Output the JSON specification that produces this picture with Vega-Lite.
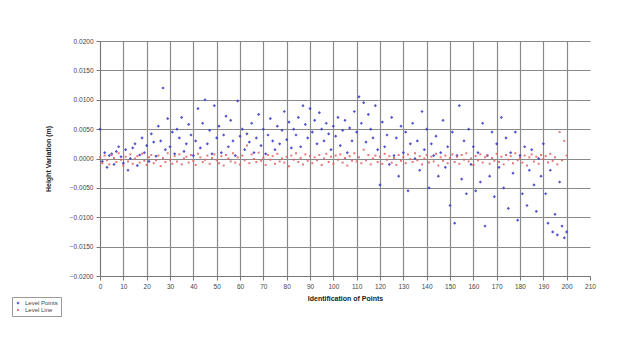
{
  "$schema": "https://vega.github.io/schema/vega-lite/v6.json",
  "width": 490,
  "height": 235,
  "autosize": {"type": "none"},
  "padding": {"left": 100, "top": 41, "right": 33, "bottom": 73},
  "background": "white",
  "config": {"view": {"stroke": null}, "font": "Liberation Sans"},
  "data": {"values": [
{"x":0,"b":0.0050,"r":0.0002},{"x":1,"b":-0.0005,"r":-0.0008},{"x":2,"b":0.0010,"r":0.0005},{"x":3,"b":-0.0015,"r":-0.0003},{"x":4,"b":0.0005,"r":-0.0010},
{"x":5,"b":0.0008,"r":0.0006},{"x":6,"b":-0.0010,"r":0.0001},{"x":7,"b":0.0012,"r":-0.0006},{"x":8,"b":0.0020,"r":0.0009},{"x":9,"b":0.0003,"r":-0.0002},
{"x":10,"b":-0.0008,"r":-0.0012},{"x":11,"b":0.0015,"r":0.0003},{"x":12,"b":-0.0020,"r":-0.0005},{"x":13,"b":0.0000,"r":0.0007},{"x":14,"b":0.0018,"r":-0.0009},
{"x":15,"b":0.0025,"r":0.0000},{"x":16,"b":-0.0012,"r":0.0004},{"x":17,"b":0.0006,"r":-0.0007},{"x":18,"b":0.0035,"r":0.0008},{"x":19,"b":0.0010,"r":-0.0004},
{"x":20,"b":0.0022,"r":-0.0011},{"x":21,"b":-0.0005,"r":0.0002},{"x":22,"b":0.0042,"r":0.0006},{"x":23,"b":0.0028,"r":-0.0008},{"x":24,"b":0.0004,"r":-0.0003},
{"x":25,"b":0.0055,"r":0.0005},{"x":26,"b":0.0030,"r":-0.0013},{"x":27,"b":0.0120,"r":0.0001},{"x":28,"b":0.0015,"r":-0.0006},{"x":29,"b":0.0068,"r":0.0009},
{"x":30,"b":0.0020,"r":-0.0002},{"x":31,"b":0.0045,"r":-0.0009},{"x":32,"b":0.0008,"r":0.0004},{"x":33,"b":0.0050,"r":-0.0005},{"x":34,"b":0.0035,"r":0.0007},
{"x":35,"b":0.0070,"r":-0.0010},{"x":36,"b":0.0012,"r":0.0000},{"x":37,"b":0.0025,"r":0.0003},{"x":38,"b":0.0058,"r":-0.0007},{"x":39,"b":0.0040,"r":0.0006},
{"x":40,"b":0.0005,"r":-0.0004},{"x":41,"b":0.0030,"r":-0.0011},{"x":42,"b":0.0085,"r":0.0008},{"x":43,"b":0.0018,"r":0.0002},{"x":44,"b":0.0060,"r":-0.0006},
{"x":45,"b":0.0100,"r":-0.0002},{"x":46,"b":0.0025,"r":0.0005},{"x":47,"b":0.0048,"r":-0.0009},{"x":48,"b":0.0008,"r":0.0001},{"x":49,"b":0.0090,"r":0.0007},
{"x":50,"b":0.0035,"r":-0.0003},{"x":51,"b":0.0055,"r":-0.0008},{"x":52,"b":0.0010,"r":0.0004},{"x":53,"b":0.0040,"r":-0.0012},{"x":54,"b":0.0072,"r":0.0006},
{"x":55,"b":0.0020,"r":0.0000},{"x":56,"b":0.0065,"r":-0.0005},{"x":57,"b":0.0030,"r":0.0009},{"x":58,"b":0.0005,"r":-0.0007},{"x":59,"b":0.0098,"r":0.0002},
{"x":60,"b":0.0038,"r":-0.0010},{"x":61,"b":0.0050,"r":0.0005},{"x":62,"b":0.0015,"r":-0.0003},{"x":63,"b":0.0042,"r":0.0022},{"x":64,"b":0.0028,"r":-0.0008},
{"x":65,"b":0.0060,"r":0.0007},{"x":66,"b":0.0010,"r":-0.0001},{"x":67,"b":0.0035,"r":-0.0006},{"x":68,"b":0.0075,"r":0.0010},{"x":69,"b":0.0022,"r":-0.0004},
{"x":70,"b":0.0050,"r":0.0001},{"x":71,"b":0.0008,"r":-0.0011},{"x":72,"b":0.0040,"r":0.0006},{"x":73,"b":0.0068,"r":-0.0002},{"x":74,"b":0.0030,"r":0.0004},
{"x":75,"b":0.0015,"r":-0.0009},{"x":76,"b":0.0055,"r":0.0008},{"x":77,"b":0.0025,"r":-0.0005},{"x":78,"b":0.0048,"r":0.0000},{"x":79,"b":0.0080,"r":-0.0007},
{"x":80,"b":0.0032,"r":0.0003},{"x":81,"b":0.0062,"r":-0.0013},{"x":82,"b":0.0018,"r":0.0005},{"x":83,"b":0.0050,"r":-0.0002},{"x":84,"b":0.0040,"r":0.0009},
{"x":85,"b":0.0070,"r":-0.0006},{"x":86,"b":0.0020,"r":0.0001},{"x":87,"b":0.0090,"r":-0.0010},{"x":88,"b":0.0058,"r":0.0007},{"x":89,"b":0.0035,"r":-0.0004},
{"x":90,"b":0.0085,"r":0.0004},{"x":91,"b":0.0045,"r":-0.0008},{"x":92,"b":0.0065,"r":0.0002},{"x":93,"b":0.0025,"r":-0.0003},{"x":94,"b":0.0078,"r":0.0006},
{"x":95,"b":0.0050,"r":-0.0011},{"x":96,"b":0.0030,"r":0.0000},{"x":97,"b":0.0060,"r":0.0008},{"x":98,"b":0.0042,"r":-0.0006},{"x":99,"b":0.0015,"r":0.0003},
{"x":100,"b":0.0055,"r":-0.0009},{"x":101,"b":0.0038,"r":0.0005},{"x":102,"b":0.0070,"r":-0.0002},{"x":103,"b":0.0022,"r":0.0007},{"x":104,"b":0.0048,"r":-0.0007},
{"x":105,"b":0.0065,"r":0.0001},{"x":106,"b":0.0010,"r":-0.0012},{"x":107,"b":0.0052,"r":0.0004},{"x":108,"b":0.0030,"r":-0.0004},{"x":109,"b":0.0080,"r":0.0009},
{"x":110,"b":0.0045,"r":-0.0005},{"x":111,"b":0.0105,"r":0.0002},{"x":112,"b":0.0060,"r":-0.0008},{"x":113,"b":0.0095,"r":0.0015},{"x":114,"b":0.0028,"r":-0.0003},
{"x":115,"b":0.0075,"r":0.0006},{"x":116,"b":0.0050,"r":-0.0010},{"x":117,"b":0.0035,"r":0.0000},{"x":118,"b":0.0090,"r":0.0005},{"x":119,"b":0.0015,"r":-0.0006},
{"x":120,"b":-0.0045,"r":0.0003},{"x":121,"b":0.0062,"r":-0.0009},{"x":122,"b":0.0020,"r":0.0008},{"x":123,"b":0.0040,"r":-0.0002},{"x":124,"b":-0.0010,"r":0.0004},
{"x":125,"b":0.0070,"r":-0.0007},{"x":126,"b":0.0005,"r":0.0001},{"x":127,"b":0.0035,"r":-0.0011},{"x":128,"b":-0.0030,"r":0.0006},{"x":129,"b":0.0055,"r":-0.0004},
{"x":130,"b":0.0010,"r":0.0002},{"x":131,"b":0.0045,"r":-0.0008},{"x":132,"b":-0.0055,"r":0.0007},{"x":133,"b":0.0025,"r":-0.0001},{"x":134,"b":0.0060,"r":-0.0006},
{"x":135,"b":0.0000,"r":0.0009},{"x":136,"b":0.0030,"r":-0.0003},{"x":137,"b":-0.0020,"r":0.0004},{"x":138,"b":0.0080,"r":-0.0010},{"x":139,"b":0.0015,"r":0.0000},
{"x":140,"b":0.0050,"r":0.0006},{"x":141,"b":-0.0050,"r":-0.0007},{"x":142,"b":0.0025,"r":0.0003},{"x":143,"b":0.0005,"r":-0.0005},{"x":144,"b":0.0038,"r":0.0008},
{"x":145,"b":-0.0030,"r":-0.0012},{"x":146,"b":0.0010,"r":0.0002},{"x":147,"b":0.0065,"r":-0.0004},{"x":148,"b":-0.0015,"r":0.0005},{"x":149,"b":0.0020,"r":-0.0008},
{"x":150,"b":-0.0080,"r":0.0001},{"x":151,"b":0.0045,"r":0.0007},{"x":152,"b":-0.0110,"r":-0.0006},{"x":153,"b":0.0005,"r":0.0003},{"x":154,"b":0.0090,"r":-0.0009},
{"x":155,"b":-0.0035,"r":0.0006},{"x":156,"b":0.0030,"r":-0.0002},{"x":157,"b":-0.0060,"r":0.0009},{"x":158,"b":0.0050,"r":-0.0005},{"x":159,"b":-0.0010,"r":0.0000},
{"x":160,"b":0.0020,"r":-0.0011},{"x":161,"b":-0.0055,"r":0.0004},{"x":162,"b":0.0010,"r":-0.0003},{"x":163,"b":-0.0040,"r":0.0007},{"x":164,"b":0.0060,"r":-0.0007},
{"x":165,"b":-0.0115,"r":0.0002},{"x":166,"b":0.0005,"r":0.0005},{"x":167,"b":-0.0030,"r":-0.0009},{"x":168,"b":0.0045,"r":0.0001},{"x":169,"b":-0.0065,"r":-0.0004},
{"x":170,"b":0.0025,"r":0.0008},{"x":171,"b":-0.0015,"r":-0.0006},{"x":172,"b":0.0070,"r":0.0003},{"x":173,"b":-0.0050,"r":-0.0010},{"x":174,"b":0.0035,"r":0.0006},
{"x":175,"b":-0.0085,"r":-0.0002},{"x":176,"b":0.0010,"r":0.0004},{"x":177,"b":-0.0025,"r":-0.0008},{"x":178,"b":0.0045,"r":0.0009},{"x":179,"b":-0.0105,"r":-0.0003},
{"x":180,"b":0.0005,"r":0.0001},{"x":181,"b":-0.0060,"r":-0.0007},{"x":182,"b":0.0020,"r":0.0005},{"x":183,"b":-0.0080,"r":-0.0012},{"x":184,"b":-0.0020,"r":0.0002},
{"x":185,"b":0.0015,"r":0.0007},{"x":186,"b":-0.0045,"r":-0.0005},{"x":187,"b":-0.0090,"r":0.0003},{"x":188,"b":0.0000,"r":-0.0009},{"x":189,"b":-0.0030,"r":0.0006},
{"x":190,"b":0.0025,"r":-0.0001},{"x":191,"b":-0.0060,"r":0.0004},{"x":192,"b":-0.0110,"r":-0.0007},{"x":193,"b":-0.0020,"r":0.0008},{"x":194,"b":-0.0125,"r":-0.0004},
{"x":195,"b":-0.0095,"r":0.0002},{"x":196,"b":-0.0130,"r":-0.0010},{"x":197,"b":-0.0040,"r":0.0045},{"x":198,"b":-0.0115,"r":-0.0003},{"x":199,"b":-0.0135,"r":0.0030},
{"x":200,"b":-0.0125,"r":0.0005}
  ]},
  "transform": [{"fold": ["b", "r"], "as": ["series", "v"]}],
  "mark": {"type": "point", "filled": true, "opacity": 0.85},
  "encoding": {
    "x": {"field": "x", "type": "quantitative",
      "scale": {"domain": [0, 210], "nice": false, "zero": false},
      "axis": {
        "values": [0,10,20,30,40,50,60,70,80,90,100,110,120,130,140,150,160,170,180,190,200,210],
        "labelOverlap": false, "labelFlush": false,
        "title": "Identification of Points",
        "titleFontSize": 7, "titleFontWeight": "bold", "titleColor": "#222", "titlePadding": 5,
        "labelFontSize": 6.5, "labelColor": "#444", "labelPadding": 3,
        "tickSize": 4, "tickColor": "#777", "domainColor": "#777",
        "grid": true, "gridColor": "#8a8a8a", "gridWidth": 1.2,
        "gridOpacity": {"condition": {"test": "datum.value == 210", "value": 0}, "value": 1}
      }},
    "y": {"field": "v", "type": "quantitative",
      "scale": {"domain": [-0.02, 0.02], "nice": false, "zero": false},
      "axis": {
        "values": [-0.02,-0.015,-0.01,-0.005,0,0.005,0.01,0.015,0.02],
        "labelOverlap": false, "labelFlush": false,
        "format": ".4f",
        "title": "Height Variation (m)",
        "titleFontSize": 7, "titleFontWeight": "bold", "titleColor": "#222", "titlePadding": 18,
        "labelFontSize": 6.5, "labelColor": "#444", "labelPadding": 3,
        "tickSize": 4, "tickColor": "#777", "domainColor": "#777",
        "grid": true, "gridColor": "#8a8a8a", "gridWidth": 1.2
      }},
    "color": {"field": "series", "type": "nominal",
      "scale": {"domain": ["b", "r"], "range": ["#3535c8", "#e86060"]},
      "legend": {"orient": "none", "legendX": -88, "legendY": 256, "title": null,
        "labelExpr": "datum.label == 'b' ? 'Level Points' : 'Level Line'",
        "strokeColor": "#999", "padding": 3, "labelFontSize": 6, "labelColor": "#444",
        "symbolSize": 12, "rowPadding": 1}},
    "shape": {"field": "series", "type": "nominal",
      "scale": {"domain": ["b", "r"], "range": ["diamond", "square"]},
      "legend": null},
    "size": {"field": "series", "type": "nominal",
      "scale": {"domain": ["b", "r"], "range": [10, 4]},
      "legend": null}
  }
}
